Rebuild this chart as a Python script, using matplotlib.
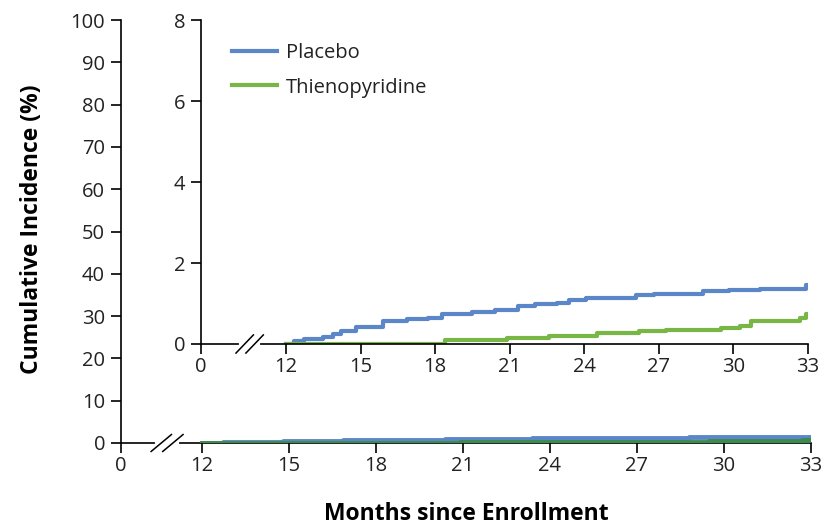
import matplotlib
matplotlib.use("Agg")
import matplotlib.pyplot as plt
from matplotlib.transforms import blended_transform_factory

plt.rcParams['font.family'] = ['Open Sans', 'DejaVu Sans']

# data (months, cumulative incidence %)
placebo_months = [12, 12.33, 12.73, 13.47, 13.87, 14.2, 14.8, 15.9, 16.87, 17.73, 18.27,
                  19.47, 20.4, 21.33, 22.0, 22.9, 23.4, 24.07, 26.1, 26.8, 28.8, 29.85,
                  31.07, 32.95, 33]
placebo_vals = [0, 0.08, 0.12, 0.18, 0.24, 0.32, 0.41, 0.56, 0.61, 0.65, 0.73,
                0.78, 0.84, 0.95, 0.98, 1.02, 1.09, 1.14, 1.20, 1.24, 1.31, 1.33,
                1.37, 1.45, 1.45]
thieno_months = [12, 18.4, 20.9, 22.6, 24.5, 26.2, 27.3, 29.5, 30.26, 30.7, 32.7, 32.95, 33]
thieno_vals = [0, 0.09, 0.16, 0.20, 0.26, 0.32, 0.35, 0.40, 0.44, 0.57, 0.63, 0.73, 0.73]

month_ticks = [12, 15, 18, 21, 24, 27, 30, 33]
main_yticks = list(range(0, 101, 10))
inset_yticks = [0, 2, 4, 6, 8]

blue = '#5b86c8'
green = '#78b746'
dark_green = '#3a8b4c'

fig = plt.figure(figsize=(8.23, 5.28), dpi=100)


def style_axes(ax, zero_pos, brk_pos, yticks, ymax, slash_h):
    ax.set_facecolor('none')
    for s in ['top', 'right']:
        ax.spines[s].set_visible(False)
    for s in ['left', 'bottom']:
        ax.spines[s].set_linewidth(1.2)
    ax.set_xlim(zero_pos, 33)
    ax.set_ylim(0, ymax)
    ax.set_xticks([zero_pos] + month_ticks)
    ax.set_xticklabels(['0'] + [str(m) for m in month_ticks])
    ax.set_yticks(yticks)
    ax.tick_params(direction='out', length=7.5, width=1.2, labelsize=14.5,
                   labelcolor='#222222')
    ax.tick_params(axis='y', pad=4)
    ax.tick_params(axis='x', pad=2)
    # axis break marks
    tr = blended_transform_factory(ax.transData, ax.transAxes)
    ax.plot([brk_pos - 0.35, brk_pos + 0.35], [0, 0], color='white', lw=3, transform=tr,
            clip_on=False, zorder=5)
    for d in (-0.2, 0.2):
        ax.plot([brk_pos + d - 0.35, brk_pos + d + 0.35], [-slash_h, slash_h],
                color='black', lw=1.1, transform=tr, clip_on=False, zorder=6)


# main axes
ax = fig.add_axes([0.147, 0.161, 0.838, 0.801])
style_axes(ax, 9.22, 10.81, main_yticks, 100, 0.02)
ax.step(placebo_months, placebo_vals, where='post', color=blue, lw=3.5, zorder=3)
ax.step(thieno_months, thieno_vals, where='post', color=dark_green, lw=3.5, zorder=4)
ax.set_ylabel('Cumulative Incidence (%)', fontsize=16.5, fontweight='bold')
ax.yaxis.set_label_coords(-0.112, 0.505)
ax.set_xlabel('Months since Enrollment', fontsize=16.5, fontweight='bold')
ax.xaxis.set_label_coords(0.5, -0.14)

# inset axes
ins = fig.add_axes([0.2442, 0.3485, 0.7372, 0.6135])
style_axes(ins, 8.57, 10.53, inset_yticks, 8, 0.028)
ins.step(placebo_months, placebo_vals, where='post', color=blue, lw=3, label='Placebo')
ins.step(thieno_months, thieno_vals, where='post', color=green, lw=3, label='Thienopyridine')
leg = ins.legend(loc='upper left', bbox_to_anchor=(0.022, 0.985), frameon=False, fontsize=14.5,
                 handlelength=2.2, handletextpad=0.45, labelspacing=0.72)
for t in leg.get_texts():
    t.set_color('#222222')

fig.savefig('out.png', dpi=100)
